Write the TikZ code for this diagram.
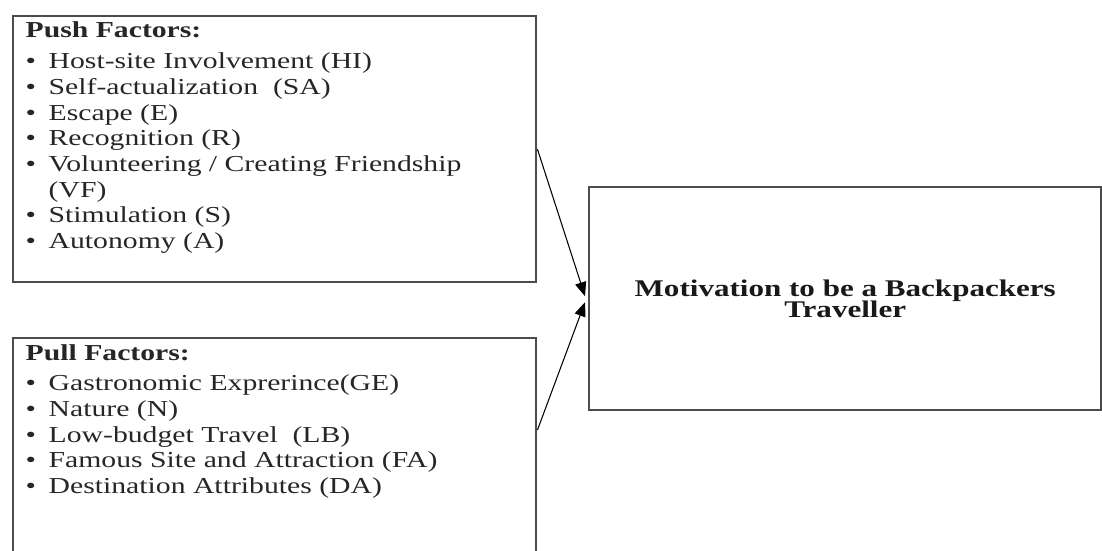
\documentclass[tikz,border=0pt]{standalone}
\usepackage{fontspec}
\setmainfont[FakeStretch=1.3]{Liberation Serif}
\usetikzlibrary{arrows.meta}
\tikzset{every picture/.style={ampersand replacement=\&}}
\newcommand{\blt}{\makebox[0.23cm][l]{\textbullet}}

\begin{document}
\begin{tikzpicture}[
  factorbox/.style={draw=black!70, line width=0.7pt, rectangle, inner sep=0pt, anchor=north west},
  listtext/.style={anchor=base west, inner sep=0pt, text=black!85, font=\fontsize{6.5}{7.3}\selectfont},
  linkarrow/.style={black, line width=0.3pt, -{Triangle[length=4pt,width=3.2pt]}}
]
\useasboundingbox (0,0) rectangle (11.02,5.51);
%\draw[step=1cm,gray,very thin] (0,0) grid (11,5.5);
\node[factorbox, minimum width=5.23cm, minimum height=2.66cm] (pushbox) at (0.12,5.36) {};
\node[factorbox, minimum width=5.23cm, minimum height=2.4cm] (pullbox) at (0.12,2.14) {};
\node[factorbox, minimum width=5.12cm, minimum height=2.23cm, align=center, text=black!90,
  font=\fontsize{6.8}{6.2}\selectfont\bfseries] (motivbox) at (5.88,3.65)
  {Motivation to be a Backpackers\\Traveller};
\node[listtext] (pushlist) at (0.25,5.13) {\begin{tabular}[t]{@{}l@{}}
  \textbf{Push Factors:}\\[1.5pt]
  \blt Host-site Involvement (HI)\\
  \blt Self-actualization~ (SA)\\
  \blt Escape (E)\\
  \blt Recognition (R)\\
  \blt Volunteering / Creating Friendship\\
  \hspace{0.23cm}(VF)\\
  \blt Stimulation (S)\\
  \blt Autonomy (A)
\end{tabular}};
\node[listtext] (pulllist) at (0.25,1.91) {\begin{tabular}[t]{@{}l@{}}
  \textbf{Pull Factors:}\\[1.5pt]
  \blt Gastronomic Exprerince(GE)\\
  \blt Nature (N)\\
  \blt Low-budget Travel~ (LB)\\
  \blt Famous Site and Attraction (FA)\\
  \blt Destination Attributes (DA)
\end{tabular}};
\draw[linkarrow] (pushbox.east) -- ([xshift=-0.03cm,yshift=0.025cm]motivbox.west);
\draw[linkarrow] ([yshift=-0.93cm]pullbox.north east) -- ([xshift=-0.03cm,yshift=-0.035cm]motivbox.west);
\end{tikzpicture}
\end{document}
